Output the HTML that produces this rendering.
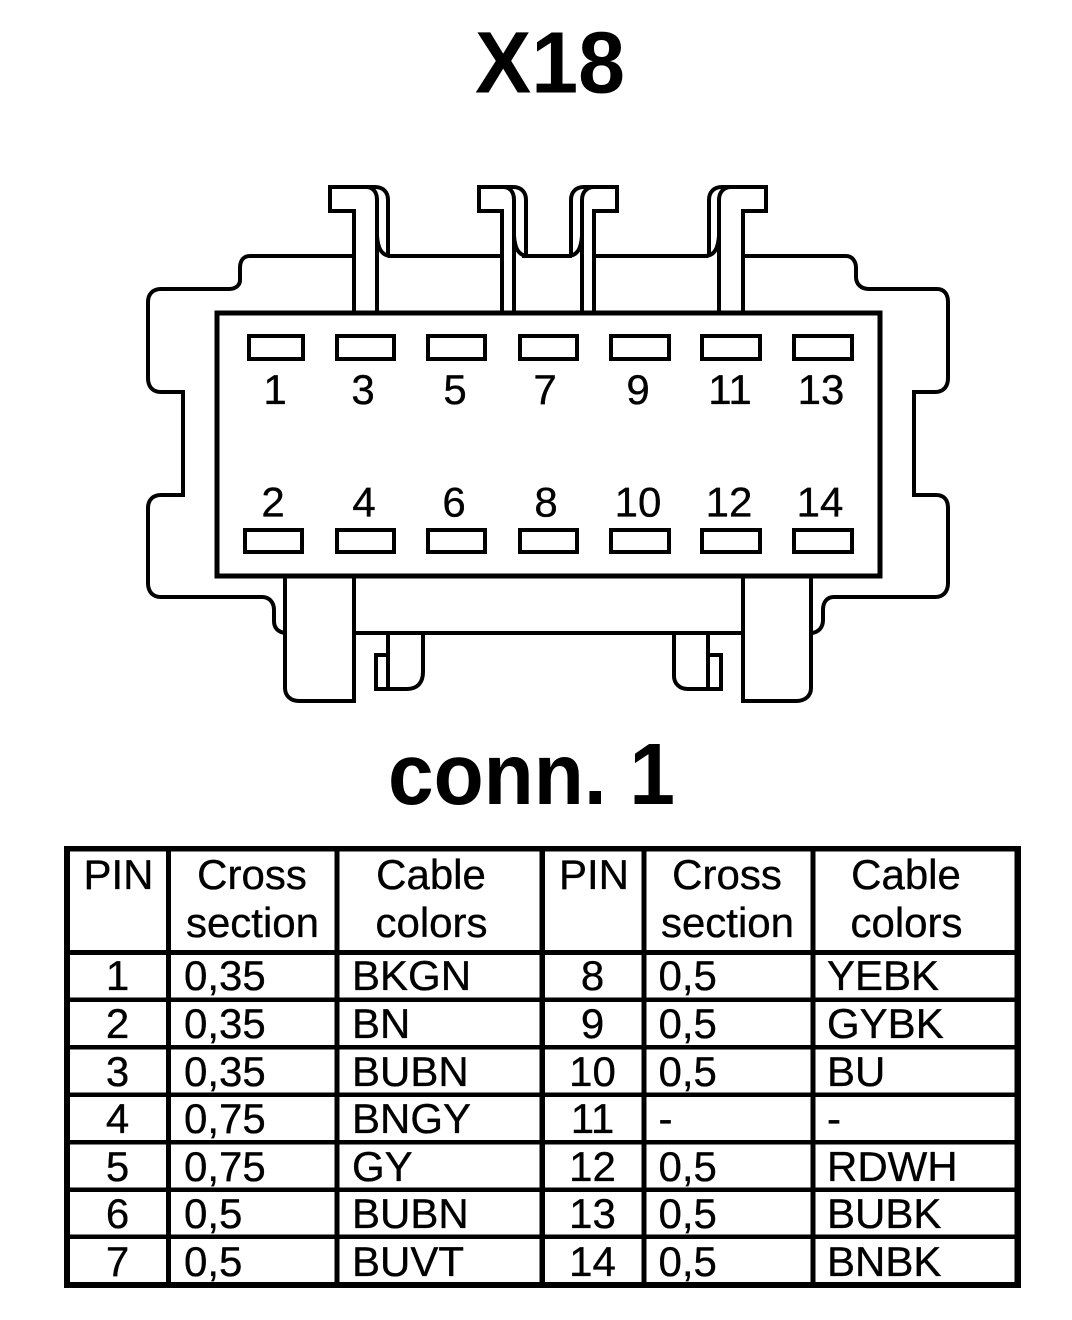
<!DOCTYPE html>
<html><head><meta charset="utf-8"><style>
html,body{margin:0;padding:0;background:#fff}
svg{display:block}
text{font-family:"Liberation Sans",Arial,sans-serif;fill:#000}
.d{font-size:42px;text-anchor:middle;stroke:#000;stroke-width:.35}
.t{font-size:42px;stroke:#000;stroke-width:.35}
.p{font-size:42px;text-anchor:middle;stroke:#000;stroke-width:.35}
.h{fill:none;stroke:#000;stroke-width:4}
</style></head><body>
<svg width="1072" height="1320" viewBox="0 0 1072 1320" xmlns="http://www.w3.org/2000/svg">
<rect width="1072" height="1320" fill="#fff"/>
<text x="475" y="92.5" font-size="87" font-weight="bold" textLength="150" lengthAdjust="spacingAndGlyphs">X18</text>
<text x="388" y="804" font-size="87" font-weight="bold" textLength="287" lengthAdjust="spacingAndGlyphs">conn. 1</text>

<g class="h">
<!-- housing -->
<path d="M354 256H250C244 256 240 260 240 268V280C240 285 236 289 229 289H161C153 289 148 294 148 302V378C148 387 153 392 161 392H183V495H161C153 495 148 500 148 508V583C148 592 153 597 161 597H262C269 597 274 602 274 610V621C274 628 278 632 285 633"/>
<path d="M743 256H846C852 256 856 261 856 268V277C856 284 861 289 869 289H937C944 289 948 294 948 302V378C948 387 943 392 935 392H914V495H936C944 495 948 500 948 508V583C948 592 943 597 935 597H834C827 597 823 602 823 610V620C823 627 819 632 812 633"/>
<path d="M388 256H502M522 256H572M594 256H708"/>
<!-- main body -->
<rect x="217" y="313" width="663" height="263" stroke-width="5"/>
<!-- hooks left -->
<path d="M354 312V211H330V187H366C373 187 377 192 377 200V312"/>
<path d="M366 187H375C383 187 388 192 388 200V254M377 236C378 248 381 255 390 256"/>
<path d="M502 312V211H479V187H503C510 187 514 192 514 200V312"/>
<path d="M503 187H513C521 187 526 192 526 200V254M514 236C515 248 518 255 527 256"/>
<!-- hooks right -->
<path d="M594 312V211H617V187H594C587 187 582 192 582 200V312"/>
<path d="M594 187H584C576 187 571 192 571 200V254M582 236C581 248 578 255 569 256"/>
<path d="M743 312V211H766V187H731C724 187 719 192 719 200V312"/>
<path d="M731 187H722C714 187 709 192 709 200V254M719 236C718 248 715 255 706 256"/>
<!-- latches -->
<path d="M285 577V688C285 696 291 701 299 701H354V577"/>
<path d="M743 577V701H796C805 701 811 696 811 688V577"/>
<path d="M354 633H743"/>
<path d="M388 633V689M423 633V672C423 683 417 689 407 689H376V655H388"/>
<path d="M674 633V676C674 684 680 689 688 689H721V655H708M708 633V689"/>
<!-- pins -->
<rect x="249" y="336" width="54" height="23"/>
<rect x="337" y="336" width="57" height="23"/>
<rect x="428" y="336" width="57" height="23"/>
<rect x="520" y="336" width="57" height="23"/>
<rect x="611" y="336" width="58" height="23"/>
<rect x="702" y="336" width="58" height="23"/>
<rect x="794" y="336" width="58" height="23"/>
<rect x="245" y="530" width="57" height="22"/>
<rect x="337" y="530" width="57" height="22"/>
<rect x="428" y="530" width="57" height="22"/>
<rect x="520" y="530" width="57" height="22"/>
<rect x="611" y="530" width="58" height="22"/>
<rect x="702" y="530" width="58" height="22"/>
<rect x="794" y="530" width="58" height="22"/>
</g>
<g>
<text class="p" x="275" y="404">1</text><text class="p" x="363" y="404">3</text><text class="p" x="455" y="404">5</text><text class="p" x="545" y="404">7</text><text class="p" x="638" y="404">9</text><text class="p" x="730" y="404">11</text><text class="p" x="821" y="404">13</text>
<text class="p" x="273" y="516.5">2</text><text class="p" x="364" y="516.5">4</text><text class="p" x="454" y="516.5">6</text><text class="p" x="546" y="516.5">8</text><text class="p" x="638" y="516.5">10</text><text class="p" x="729" y="516.5">12</text><text class="p" x="820" y="516.5">14</text>
</g>

<!-- table -->
<g fill="#000">
<rect x="64" y="846" width="957" height="5.5"/>
<rect x="64" y="1282" width="957" height="6"/>
<rect x="64" y="846" width="6" height="442"/>
<rect x="1014.5" y="846" width="6.5" height="442"/>
<rect x="166" y="846" width="5" height="442"/>
<rect x="334.5" y="846" width="5" height="442"/>
<rect x="539.5" y="846" width="5.5" height="442"/>
<rect x="641.5" y="846" width="5" height="442"/>
<rect x="810.5" y="846" width="5" height="442"/>
<rect x="64" y="950" width="957" height="5"/>
<rect x="64" y="997.5" width="957" height="4.5"/>
<rect x="64" y="1045" width="957" height="4.5"/>
<rect x="64" y="1092.5" width="957" height="4.5"/>
<rect x="64" y="1140" width="957" height="4.5"/>
<rect x="64" y="1187.5" width="957" height="4.5"/>
<rect x="64" y="1234.5" width="957" height="4.5"/>
</g>

<text class="d" x="118.5" y="889">PIN</text><text class="d" x="252" y="889">Cross</text><text class="d" x="252.5" y="937">section</text><text class="d" x="431" y="889">Cable</text><text class="d" x="431.5" y="937">colors</text>
<text class="d" x="594" y="889">PIN</text><text class="d" x="727" y="889">Cross</text><text class="d" x="727.5" y="937">section</text><text class="d" x="906" y="889">Cable</text><text class="d" x="906.5" y="937">colors</text>

<text class="d" x="117.5" y="990">1</text><text class="t" x="184" y="990">0,35</text><text class="t" x="352" y="990">BKGN</text>
<text class="d" x="117.5" y="1038">2</text><text class="t" x="184" y="1038">0,35</text><text class="t" x="352" y="1038">BN</text>
<text class="d" x="117.5" y="1086">3</text><text class="t" x="184" y="1086">0,35</text><text class="t" x="352" y="1086">BUBN</text>
<text class="d" x="117.5" y="1133">4</text><text class="t" x="184" y="1133">0,75</text><text class="t" x="352" y="1133">BNGY</text>
<text class="d" x="117.5" y="1181">5</text><text class="t" x="184" y="1181">0,75</text><text class="t" x="352" y="1181">GY</text>
<text class="d" x="117.5" y="1228">6</text><text class="t" x="184" y="1228">0,5</text><text class="t" x="352" y="1228">BUBN</text>
<text class="d" x="117.5" y="1276">7</text><text class="t" x="184" y="1276">0,5</text><text class="t" x="352" y="1276">BUVT</text>

<text class="d" x="592.5" y="990">8</text><text class="t" x="658.5" y="990">0,5</text><text class="t" x="827" y="990">YEBK</text>
<text class="d" x="592.5" y="1038">9</text><text class="t" x="658.5" y="1038">0,5</text><text class="t" x="827" y="1038">GYBK</text>
<text class="d" x="592.5" y="1086">10</text><text class="t" x="658.5" y="1086">0,5</text><text class="t" x="827" y="1086">BU</text>
<text class="d" x="592.5" y="1133">11</text><text class="t" x="658.5" y="1133">-</text><text class="t" x="827" y="1133">-</text>
<text class="d" x="592.5" y="1181">12</text><text class="t" x="658.5" y="1181">0,5</text><text class="t" x="827" y="1181">RDWH</text>
<text class="d" x="592.5" y="1228">13</text><text class="t" x="658.5" y="1228">0,5</text><text class="t" x="827" y="1228">BUBK</text>
<text class="d" x="592.5" y="1276">14</text><text class="t" x="658.5" y="1276">0,5</text><text class="t" x="827" y="1276">BNBK</text>
</svg>
</body></html>
